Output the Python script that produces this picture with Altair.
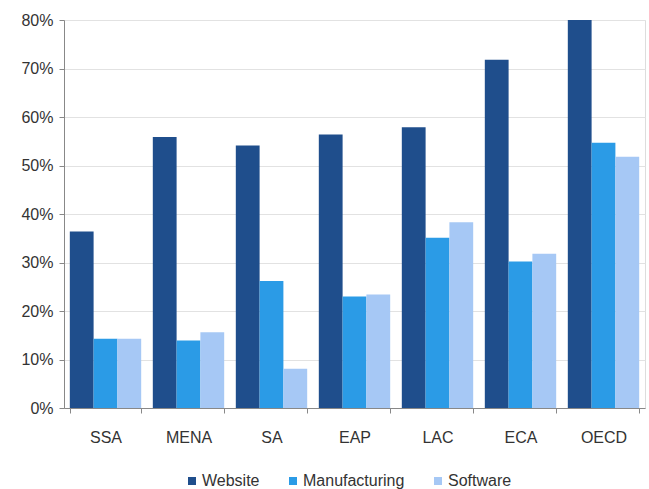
import altair as alt
import pandas as pd

# Share of firms (%) by region
regions = ["SSA", "MENA", "SA", "EAP", "LAC", "ECA", "OECD"]
website = [36.4, 55.9, 54.1, 56.4, 57.9, 71.8, 80.0]
manufacturing = [14.3, 13.9, 26.2, 23.0, 35.1, 30.2, 54.7]
software = [14.3, 15.6, 8.1, 23.4, 38.3, 31.8, 51.8]

series = ["Website", "Manufacturing", "Software"]
colors = ["#1F4E8C", "#2B9BE6", "#A6C8F5"]

rows = []
for name, vals in zip(series, [website, manufacturing, software]):
    for r, v in zip(regions, vals):
        rows.append({"region": r, "series": name, "value": v})
df = pd.DataFrame(rows)

text_color = "#333333"
font = "Liberation Sans"

chart = (
    alt.Chart(df)
    .mark_bar()
    .encode(
        x=alt.X(
            "region:N",
            sort=regions,
            title=None,
            scale=alt.Scale(paddingInner=0.14, paddingOuter=0.07),
            axis=alt.Axis(
                labelAngle=0,
                labelFontSize=16,
                labelColor=text_color,
                labelFont=font,
                labelPadding=16,
                tickBand="extent",
                tickSize=5,
                tickColor="#888888",
                domainColor="#888888",
                grid=False,
            ),
        ),
        xOffset=alt.XOffset("series:N", sort=series, scale=alt.Scale(paddingInner=0, paddingOuter=0)),
        y=alt.Y(
            "value:Q",
            title=None,
            scale=alt.Scale(domain=[0, 80], nice=False),
            axis=alt.Axis(
                values=[0, 10, 20, 30, 40, 50, 60, 70, 80],
                labelExpr="datum.value + '%'",
                labelFontSize=16,
                labelColor=text_color,
                labelFont=font,
                labelPadding=6,
                tickSize=5,
                tickColor="#888888",
                domainColor="#888888",
                gridColor="#E2E2E2",
            ),
        ),
        color=alt.Color(
            "series:N",
            sort=series,
            scale=alt.Scale(domain=series, range=colors),
            legend=alt.Legend(
                title=None,
                orient="none",
                direction="horizontal",
                legendX=120,
                legendY=453,
                padding=0,
                symbolType="square",
                symbolSize=64,
                symbolStrokeWidth=0,
                labelFontSize=16,
                labelFont=font,
                labelColor=text_color,
                labelOffset=2,
                columnPadding=25,
            ),
        ),
    )
    .properties(
        width=581,
        height=388,
        autosize=alt.AutoSizeParams(type="none"),
        padding={"left": 64, "top": 20, "right": 4, "bottom": 81},
    )
    .configure_view(stroke=None)
    .configure(background="white")
)

chart.save("out.html", embed_options={"renderer": "svg", "actions": False})
